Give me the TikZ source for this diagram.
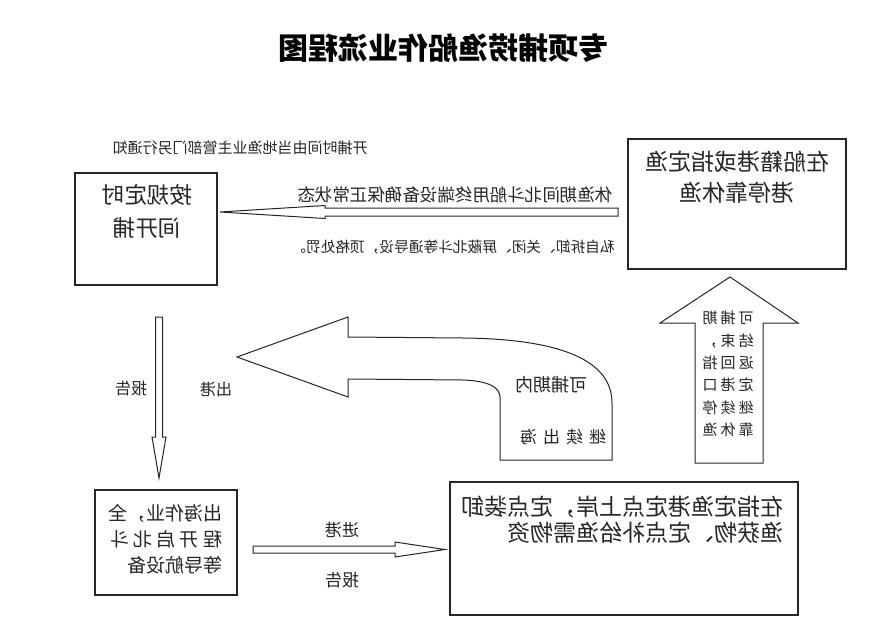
\documentclass[tikz,border=0pt]{standalone}
\usepackage{fontspec}
\newfontfamily\cjk{Noto Sans CJK SC}
\newcommand\fsz[2]{\fontsize{#1pt}{#2pt}\selectfont}
\tikzset{
  mir/.style={xscale=-1, inner sep=0pt, text=black!85},
  box/.style={draw=black!85, line width=1.1pt, fill=white, inner sep=0pt},
  blk/.style={draw=black!85, line width=1pt, fill=white, line join=miter},
}
\begin{document}
\begin{tikzpicture}[x=1pt, y=-1pt]
\useasboundingbox (0,0) rectangle (891,632);
% title
\node[mir, font={\cjk\bfseries\fsz{30}{34}}, text=black] (title) at (443,48) {专项捕捞渔船作业流程图};
% note
\node[mir, font={\cjk\fsz{15}{18}}] (note) at (240,148) {开捕时间由当地渔业主管部门另行通知};
% boxes
\node[box, minimum width=142pt, minimum height=112pt] (b1) at (146,229) {};
\node[box, minimum width=218pt, minimum height=130pt] (b2) at (737,204) {};
\node[box, minimum width=142pt, minimum height=105pt] (b3) at (166,542.5) {};
\node[box, minimum width=348pt, minimum height=133pt] (b4) at (624,548.5) {};
% box texts
\node[mir, font={\cjk\fsz{22.5}{33}}, align=center] (t1) at (147,211) {按规定时\\间开捕};
\node[mir, font={\cjk\fsz{23}{31}}, align=center] (t2) at (737,177.5) {在船籍港或指定渔\\港停靠休渔};
\node[mir, font={\cjk\fsz{19}{26}}, align=left, text width=114pt] (t3) at (165,539)
  {出海作业，全\\\makebox[112pt][s]{程\hfil 开\hfil 启\hfil 北\hfil 斗}\\等导航设备};
\node[mir, font={\cjk\fsz{23}{26}}, align=left, text width=322pt] (t4) at (622,520)
  {在指定渔港定点上岸，定点装卸\\渔获物、定点补给渔需物资};
% horizontal arrow to left (top)
\draw[blk] (618,208) -- (325,208) -- (325,205.5) -- (220,212) -- (325,218.5) -- (325,216) -- (618,216) -- cycle;
\node[mir, font={\cjk\fsz{17.5}{20}}] (l1) at (455,195) {休渔期间北斗船用终端设备确保正常状态};
\node[mir, font={\cjk\fsz{14.7}{18}}] (l2) at (453,247) {私自拆卸、关闭、屏蔽北斗等通导设，顶格处罚。};
% down arrow
\draw[blk] (155.5,317) -- (162.5,317) -- (162.5,437) -- (166,437) -- (159,478) -- (152,437) -- (155.5,437) -- cycle;
\node[mir, font={\cjk\fsz{16}{18}}] (l3) at (131,388) {报告};
\node[mir, font={\cjk\fsz{16}{18}}] (l4) at (216,389) {出港};
% curved arrow
\draw[blk] (612,460) -- (612,403) .. controls (612,360) and (560,339) .. (463,338) -- (348,337)
  -- (348,317) -- (237,357) -- (348,397) -- (348,379) -- (463,380)
  .. controls (490,381) and (500,388) .. (500,397) -- (500,460) -- cycle;
\node[mir, font={\cjk\fsz{18}{20}}] (l5) at (551,385) {可捕期内};
\node[mir, font={\cjk\fsz{17}{20}}] (l6) at (563,437) {继\hspace{6pt}续\hspace{6pt}出\hspace{6pt}海};
% up arrow
\draw[blk] (695,463) -- (695,323) -- (660,323) -- (730,277) -- (798,323) -- (763,323) -- (763,463) -- cycle;
\node[mir, font={\cjk\fsz{15}{22.4}}, align=left] (l7) at (728,374)
  {可\hspace{3pt}捕\hspace{3pt}期\\结\hspace{3pt}束\hspace{3pt}，\\返\hspace{3pt}回\hspace{3pt}指\\定\hspace{3pt}港\hspace{3pt}口\\继\hspace{3pt}续\hspace{3pt}停\\靠\hspace{3pt}休\hspace{3pt}渔};
% right arrow (bottom)
\draw[blk] (253,546) -- (395,546) -- (395,542) -- (445,549.5) -- (395,557) -- (395,553) -- (253,553) -- cycle;
\node[mir, font={\cjk\fsz{17}{20}}] (l8) at (342,530) {进港};
\node[mir, font={\cjk\fsz{17}{20}}] (l9) at (342,580) {报告};
\end{tikzpicture}
\end{document}
